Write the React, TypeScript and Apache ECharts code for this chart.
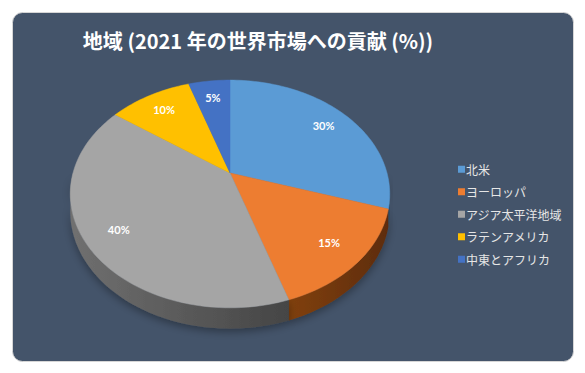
import React, { useEffect, useRef } from "react";
import * as echarts from "echarts";

const titleText = "地域 (2021 年の世界市場への貢献 (%))";
const categories = ["北米", "ヨーロッパ", "アジア太平洋地域", "ラテンアメリカ", "中東とアフリカ"];
const shares = [30, 15, 40, 10, 5];
const topColors = ["#5b9bd5", "#ed7d31", "#a5a5a5", "#ffc000", "#4472c4"];
const wallLight = ["#2f5f8a", "#80400f", "#707070", "#a07800", "#2a4a80"];
const wallDark = ["#24496b", "#5e2c0b", "#454545", "#7a5c00", "#203a66"];

// perspective layout of the tilted pie
const CX = 230;
const CY = 173;
const RX = 157;
const RY = 110;
const PERSP = 0.184;
const DEPTH = 17;

function proj(deg: number, r: number, depth: number): number[] {
  const t = (deg * Math.PI) / 180;
  const z = r * Math.cos(t);
  const x = r * Math.sin(t);
  const d = 1 + PERSP * z;
  return [CX + (RX * x) / d, CY - (RY * z) / d + depth / d];
}

function arc(a0: number, a1: number, depth: number): number[][] {
  const pts: number[][] = [];
  const n = Math.max(2, Math.ceil(Math.abs(a1 - a0) / 1.5));
  for (let i = 0; i <= n; i++) {
    pts.push(proj(a0 + ((a1 - a0) * i) / n, 1, depth));
  }
  return pts;
}

export default function App() {
  const ref = useRef<HTMLDivElement>(null);
  useEffect(() => {
    if (!ref.current) return;
    const chart = echarts.init(ref.current, null, { renderer: "svg" });
    const total = shares.reduce((a, b) => a + b, 0);

    const renderItem = (params: any, api: any) => {
      const s = params.seriesIndex;
      const v = api.value(0);
      let before = 0;
      for (let i = 0; i < s; i++) before += shares[i];
      const a0 = (before / total) * 360;
      const a1 = ((before + v) / total) * 360;
      const children: any[] = [];
      const lo = Math.max(a0, 90);
      const hi = Math.min(a1, 270);
      if (lo < hi) {
        const topEdge = arc(lo, hi, 0);
        const botEdge = arc(hi, lo, DEPTH);
        children.push({
          type: "polygon",
          shape: { points: topEdge.concat(botEdge) },
          style: {
            fill: new echarts.graphic.LinearGradient(0, 0, 1, 0, [
              { offset: 0, color: wallLight[s] },
              { offset: 1, color: wallDark[s] },
            ]),
            stroke: null,
            shadowBlur: 8,
            shadowOffsetY: 3,
            shadowColor: "rgba(0,0,0,0.35)",
          },
        });
      }
      children.push({
        type: "polygon",
        shape: { points: [[CX, CY]].concat(arc(a0, a1, 0)) },
        style: { fill: topColors[s], stroke: topColors[s], lineWidth: 0.5 },
      });
      const mid = (a0 + a1) / 2;
      const lp = proj(mid, 0.8, 0);
      children.push({
        type: "text",
        x: lp[0],
        y: lp[1],
        style: {
          text: Math.round((v / total) * 100) + "%",
          fill: "#ffffff",
          font: "bold 11px Lato, 'Open Sans', sans-serif",
          align: "center",
          verticalAlign: "middle",
        },
        z2: 10,
      });
      return { type: "group", children };
    };

    const series = categories.map((name, i) => ({
      type: "custom",
      name,
      coordinateSystem: "none",
      data: [[shares[i]]],
      itemStyle: { color: topColors[i] },
      renderItem,
      z: 5,
    }));

    chart.setOption({
      animation: false,
      graphic: [
        {
          type: "rect",
          shape: { x: 12.5, y: 12.5, width: 561, height: 349, r: 10 },
          style: { fill: "#44546a", stroke: "#d6d6d6", lineWidth: 1 },
          z: 0,
          silent: true,
        },
        {
          type: "text",
          x: 258,
          y: 40,
          style: {
            text: titleText,
            fill: "#ffffff",
            font: "bold 20px 'Noto Sans CJK JP', sans-serif",
            align: "center",
            verticalAlign: "middle",
          },
          z: 10,
        },
      ],
      legend: {
        orient: "vertical",
        left: 453,
        top: 158,
        itemWidth: 7,
        itemHeight: 7,
        itemGap: 10,
        icon: "rect",
        data: categories,
        textStyle: {
          color: "#e6e6e6",
          fontSize: 12,
          lineHeight: 12.5,
          fontFamily: "'Noto Sans CJK JP', sans-serif",
          padding: [0, 0, 0, -4],
        },
      },
      series,
    });
    return () => chart.dispose();
  }, []);
  return (
    <div
      ref={ref}
      style={{ position: "absolute", left: 0, top: 0, width: 585, height: 373 }}
    />
  );
}
